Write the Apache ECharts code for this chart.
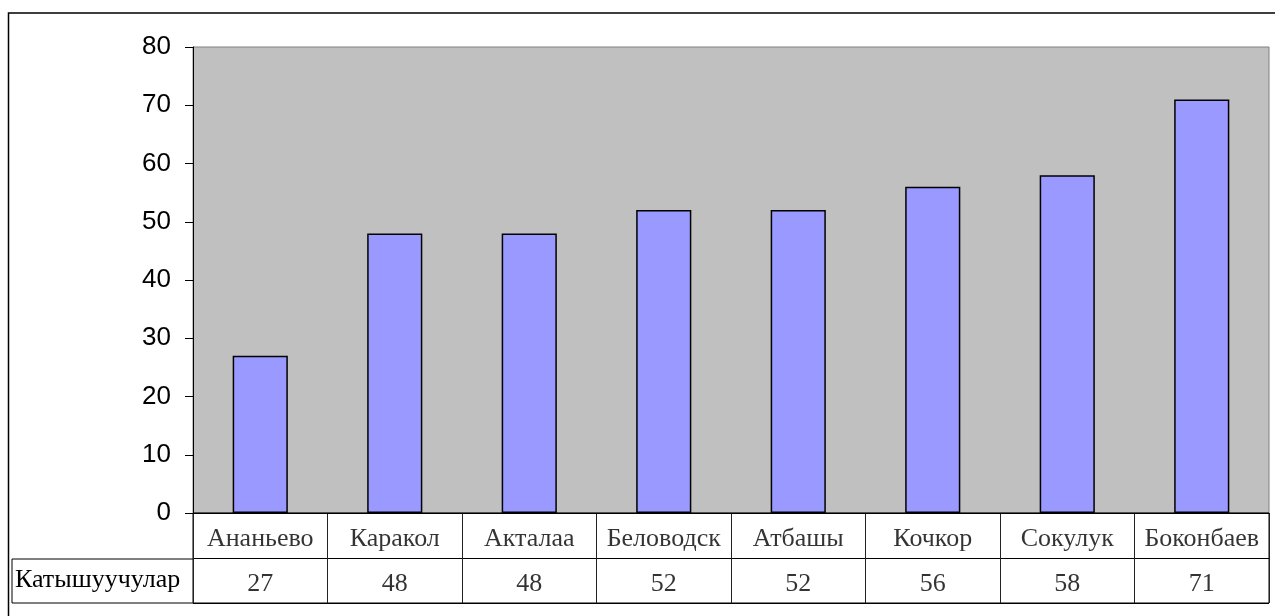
<!DOCTYPE html>
<html>
<head>
<meta charset="utf-8">
<style>
html,body{margin:0;padding:0;background:#fff;}
#chart{width:1275px;height:616px;}
</style>
<script src="https://cdn.jsdelivr.net/npm/echarts@6/dist/echarts.min.js"></script>
</head>
<body>
<div id="chart"></div>
<script>
const categories = ['Ананьево','Каракол','Акталаа','Беловодск','Атбашы','Кочкор','Сокулук','Боконбаев'];
const values = [27, 48, 48, 52, 52, 56, 58, 71];
const seriesName = 'Катышуучулар';
const yTicks = {min: 0, max: 80, interval: 10};

const chart = echarts.init(document.getElementById('chart'), null, {renderer: 'canvas'});
const serif = '"Liberation Serif","Times New Roman",serif';
const sans = '"Liberation Sans",Arial,sans-serif';

const cellData = categories.map((c, i) => [i, 0, c]).concat(values.map((v, i) => [i, 1, String(v)]));

chart.setOption({
  animation: false,
  backgroundColor: '#ffffff',
  graphic: [{
    type: 'rect', z: -10,
    shape: {x: 8.5, y: 13, width: 1300, height: 700},
    style: {fill: 'none', stroke: '#000', lineWidth: 1.5}
  }],
  grid: [
    {left: 193, right: 6, top: 47, bottom: 103, show: true, backgroundColor: '#c0c0c0', borderColor: '#808080', borderWidth: 1},
    {left: 193, right: 6, top: 513, height: 90, show: true, backgroundColor: '#fff', borderColor: '#000', borderWidth: 1},
    {left: 12, width: 181, top: 559, height: 44, show: true, backgroundColor: '#fff', borderColor: '#000', borderWidth: 1}
  ],
  xAxis: [
    {type: 'category', gridIndex: 0, data: categories, axisLine: {show: true, lineStyle: {color: '#000'}},
     axisTick: {show: false}, axisLabel: {show: false}, splitLine: {show: false}},
    {type: 'category', gridIndex: 1, data: categories, axisLine: {show: false},
     axisTick: {show: false}, axisLabel: {show: false},
     splitLine: {show: true, lineStyle: {color: '#222', width: 1}}},
    {type: 'value', gridIndex: 2, show: false}
  ],
  yAxis: [
    {type: 'value', gridIndex: 0, min: yTicks.min, max: yTicks.max, interval: yTicks.interval,
     axisLine: {show: true, lineStyle: {color: '#000', width: 1}},
     axisTick: {show: true, inside: false, length: 8, lineStyle: {color: '#000'}},
     axisLabel: {color: '#000', fontFamily: sans, fontSize: 26, margin: 22, padding: [4, 0, 0, 0]},
     splitLine: {show: false}},
    {type: 'category', gridIndex: 1, inverse: true, data: ['', seriesName],
     axisLine: {show: false}, axisTick: {show: false},
     axisLabel: {show: true, align: 'left', margin: 178, color: '#000', fontFamily: serif, fontSize: 26, padding: [6, 0, 0, 0]},
     splitLine: {show: true, lineStyle: {color: '#000', width: 1}}},
    {type: 'value', gridIndex: 2, show: false}
  ],
  series: [
    {name: seriesName, type: 'bar', xAxisIndex: 0, yAxisIndex: 0, data: values, barWidth: '41%',
     itemStyle: {color: '#9999ff', borderColor: '#000', borderWidth: 1.5}},
    {type: 'scatter', xAxisIndex: 1, yAxisIndex: 1, data: cellData, symbolSize: 1,
     itemStyle: {color: 'rgba(0,0,0,0)'},
     label: {show: true, position: 'inside', offset: [0, 4], color: '#000', fontFamily: serif, fontSize: 26,
       formatter: p => p.data[2]}}
  ]
});
</script>
</body>
</html>
